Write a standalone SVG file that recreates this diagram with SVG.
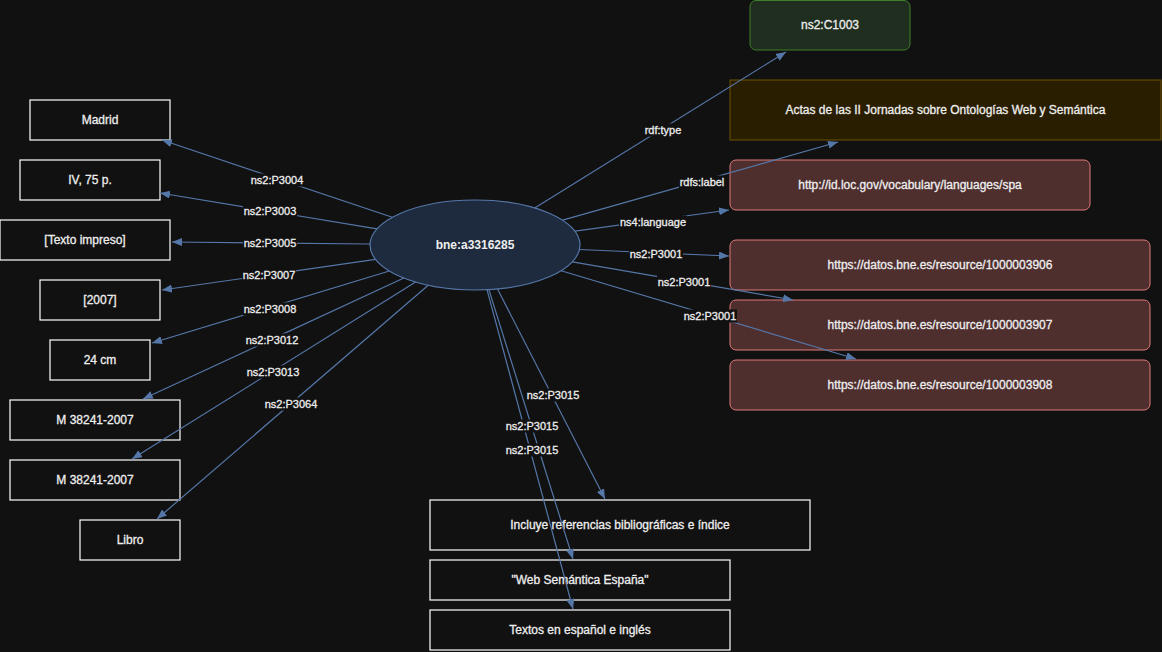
<svg xmlns="http://www.w3.org/2000/svg" width="1162" height="652" viewBox="0 0 1162 652">
  <defs>
    <marker id="arrow" markerUnits="userSpaceOnUse" markerWidth="11" markerHeight="9" refX="10" refY="4" orient="auto">
      <path d="M0,0 L10,4 L0,8 z" fill="#5577a8"/>
    </marker>
    <style>
      .lit { fill: #111111; stroke: #ffffff; stroke-width: 1.2; }
      .cls { fill: #1f2e1f; stroke: #3f7f2a; stroke-width: 1; }
      .lbl { fill: #2a1e00; stroke: #6e5200; stroke-width: 1; }
      .res { fill: #4f2e2e; stroke: #e07a7a; stroke-width: 1; }
      .subj { fill: #1e2a3d; stroke: #5577a8; stroke-width: 1.2; }
      .t { font-family: "Liberation Sans", Arial, sans-serif; font-size: 12px; fill: #eeeeee; stroke: #eeeeee; stroke-width: 0.3; text-anchor: middle; dominant-baseline: central; }
      .tb { font-weight: bold; stroke-width: 0; }
      .edge { stroke: #5577a8; stroke-width: 1.2; fill: none; marker-end: url(#arrow); }
      .el { font-family: "Liberation Sans", Arial, sans-serif; font-size: 11px; fill: #eeeeee; stroke: #eeeeee; stroke-width: 0.3; text-anchor: middle; dominant-baseline: central; }
      .elbg { fill: #111111; }
    </style>
  </defs>

  <rect x="0" y="0" width="1162" height="652" fill="#111111"/>

  <!-- literal nodes, left column -->
  <g id="n-madrid"><rect class="lit" x="30" y="100" width="140" height="40"/><text class="t" x="100" y="120">Madrid</text></g>
  <g id="n-extent"><rect class="lit" x="20" y="160" width="140" height="40"/><text class="t" x="90" y="180">IV, 75 p.</text></g>
  <g id="n-medium"><rect class="lit" x="0" y="220" width="170" height="40"/><text class="t" x="85" y="240">[Texto impreso]</text></g>
  <g id="n-date"><rect class="lit" x="40" y="280" width="120" height="40"/><text class="t" x="100" y="300">[2007]</text></g>
  <g id="n-dim"><rect class="lit" x="50" y="340" width="100" height="40"/><text class="t" x="100" y="360">24 cm</text></g>
  <g id="n-dl1"><rect class="lit" x="10" y="400" width="170" height="40"/><text class="t" x="95" y="420">M 38241-2007</text></g>
  <g id="n-dl2"><rect class="lit" x="10" y="460" width="170" height="40"/><text class="t" x="95" y="480">M 38241-2007</text></g>
  <g id="n-libro"><rect class="lit" x="80" y="520" width="100" height="40"/><text class="t" x="130" y="540">Libro</text></g>

  <!-- right column -->
  <g id="n-class"><rect class="cls" x="750" y="0.5" width="160" height="49.5" rx="6"/><text class="t" x="830" y="25">ns2:C1003</text></g>
  <g id="n-title"><rect class="lbl" x="730" y="80" width="431" height="60"/><text class="t" x="945.5" y="110">Actas de las II Jornadas sobre Ontologías Web y Semántica</text></g>
  <g id="n-lang"><rect class="res" x="730" y="160" width="360" height="50" rx="6"/><text class="t" x="910" y="185">http://id.loc.gov/vocabulary/languages/spa</text></g>
  <g id="n-r3906"><rect class="res" x="730" y="240" width="420" height="50" rx="6"/><text class="t" x="940" y="265">https://datos.bne.es/resource/1000003906</text></g>
  <g id="n-r3907"><rect class="res" x="730" y="300" width="420" height="50" rx="6"/><text class="t" x="940" y="325">https://datos.bne.es/resource/1000003907</text></g>
  <g id="n-r3908"><rect class="res" x="730" y="360" width="420" height="50" rx="6"/><text class="t" x="940" y="385">https://datos.bne.es/resource/1000003908</text></g>

  <!-- notes, bottom -->
  <g id="n-note1"><rect class="lit" x="430" y="500" width="380" height="50"/><text class="t" x="620" y="525">Incluye referencias bibliográficas e índice</text></g>
  <g id="n-note2"><rect class="lit" x="430" y="560" width="300" height="40"/><text class="t" x="580" y="580">"Web Semántica España"</text></g>
  <g id="n-note3"><rect class="lit" x="430" y="610" width="300" height="40"/><text class="t" x="580" y="630">Textos en español e inglés</text></g>

  <!-- subject -->
  <g id="n-subject"><ellipse class="subj" cx="475" cy="245" rx="105" ry="45"/><text class="t tb" x="475" y="245">bne:a3316285</text></g>

  <!-- connectors -->
  <g id="edges">
    <line class="edge" x1="392.3" y1="217.3" x2="162" y2="140"/>
    <line class="edge" x1="377" y1="228.8" x2="160" y2="193"/>
    <line class="edge" x1="370" y1="244" x2="172" y2="242"/>
    <line class="edge" x1="375.5" y1="259.3" x2="162" y2="290"/>
    <line class="edge" x1="389.3" y1="271" x2="152" y2="343"/>
    <line class="edge" x1="403.8" y1="278" x2="143" y2="399"/>
    <line class="edge" x1="415.6" y1="282.1" x2="132" y2="459"/>
    <line class="edge" x1="428.2" y1="285.3" x2="157" y2="519"/>
    <line class="edge" x1="534.7" y1="208" x2="786" y2="52"/>
    <line class="edge" x1="562.6" y1="220.2" x2="838" y2="142"/>
    <line class="edge" x1="575" y1="231.2" x2="729" y2="210"/>
    <line class="edge" x1="579.4" y1="249.5" x2="729" y2="256"/>
    <line class="edge" x1="572.4" y1="261.8" x2="793" y2="300"/>
    <line class="edge" x1="561.1" y1="270.8" x2="856" y2="359"/>
    <line class="edge" x1="497.5" y1="289" x2="605" y2="499"/>
    <line class="edge" x1="488.9" y1="289.6" x2="573" y2="559"/>
    <line class="edge" x1="487" y1="289.7" x2="573" y2="609"/>

    <!-- connector labels -->
    <g id="edge-labels">
      <rect class="elbg" x="250" y="173.5" width="54" height="13"/><text class="el" x="277" y="180">ns2:P3004</text>
      <rect class="elbg" x="243" y="204.5" width="54" height="13"/><text class="el" x="270" y="211">ns2:P3003</text>
      <rect class="elbg" x="243" y="236.5" width="54" height="13"/><text class="el" x="270" y="243">ns2:P3005</text>
      <rect class="elbg" x="242" y="268.5" width="54" height="13"/><text class="el" x="269" y="275">ns2:P3007</text>
      <rect class="elbg" x="243" y="302.5" width="54" height="13"/><text class="el" x="270" y="309">ns2:P3008</text>
      <rect class="elbg" x="245" y="333.5" width="54" height="13"/><text class="el" x="272" y="340">ns2:P3012</text>
      <rect class="elbg" x="246" y="365.5" width="54" height="13"/><text class="el" x="273" y="372">ns2:P3013</text>
      <rect class="elbg" x="264" y="397.5" width="54" height="13"/><text class="el" x="291" y="404">ns2:P3064</text>
      <rect class="elbg" x="643" y="123.5" width="40" height="13"/><text class="el" x="663" y="130">rdf:type</text>
      <rect class="elbg" x="679" y="175.5" width="46" height="13"/><text class="el" x="702" y="182">rdfs:label</text>
      <rect class="elbg" x="619" y="215.5" width="68" height="13"/><text class="el" x="653" y="222">ns4:language</text>
      <rect class="elbg" x="629" y="247.5" width="54" height="13"/><text class="el" x="656" y="254">ns2:P3001</text>
      <rect class="elbg" x="657" y="275.5" width="54" height="13"/><text class="el" x="684" y="282">ns2:P3001</text>
      <rect class="elbg" x="683" y="309.5" width="54" height="13"/><text class="el" x="710" y="316">ns2:P3001</text>
      <rect class="elbg" x="526" y="388.5" width="54" height="13"/><text class="el" x="553" y="395">ns2:P3015</text>
      <rect class="elbg" x="505" y="419.5" width="54" height="13"/><text class="el" x="532" y="426">ns2:P3015</text>
      <rect class="elbg" x="505" y="443.5" width="54" height="13"/><text class="el" x="532" y="450">ns2:P3015</text>
    </g>
  </g>
</svg>
